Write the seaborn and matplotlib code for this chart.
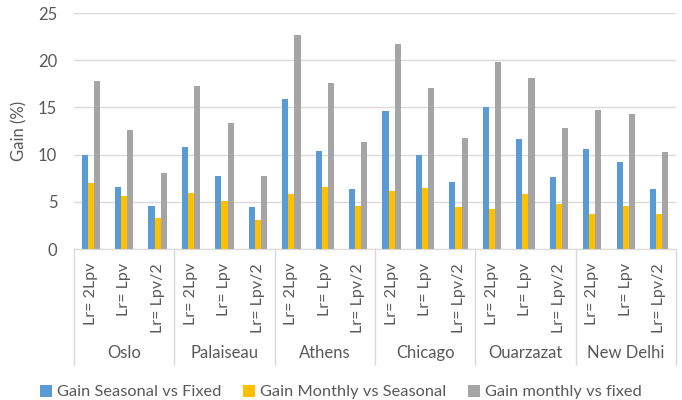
import pandas as pd
import matplotlib.pyplot as plt
import matplotlib.transforms as mtransforms
import seaborn as sns

sns.set_style("white")
plt.rcParams['font.family'] = ['Lato', 'DejaVu Sans']

# -------------------------------
# Data
# -------------------------------
cities = ["Oslo", "Palaiseau", "Athens", "Chicago", "Ouarzazat", "New Delhi"]
ratios = ["Lr= 2Lpv", "Lr= Lpv", "Lr= Lpv/2"]
series = ["Gain Seasonal vs Fixed", "Gain Monthly vs Seasonal", "Gain monthly vs fixed"]

seasonal_vs_fixed = [10.0, 6.6, 4.6, 10.8, 7.7, 4.5, 15.9, 10.4, 6.4,
                     14.6, 10.0, 7.1, 15.0, 11.7, 7.6, 10.6, 9.2, 6.4]
monthly_vs_seasonal = [7.0, 5.6, 3.3, 5.9, 5.1, 3.1, 5.8, 6.6, 4.6,
                       6.1, 6.5, 4.4, 4.2, 5.8, 4.8, 3.7, 4.6, 3.7]
monthly_vs_fixed = [17.8, 12.6, 8.0, 17.3, 13.3, 7.7, 22.7, 17.6, 11.3,
                    21.7, 17.1, 11.8, 19.8, 18.1, 12.8, 14.7, 14.3, 10.3]

colors = ["#5B9BD5", "#FFC000", "#A5A5A5"]
text_color = "#595959"
grid_color = "#D9D9D9"

# long-form table for seaborn
keys = [f"{c}|{r}" for c in cities for r in ratios]
rows = []
for name, vals in zip(series, [seasonal_vs_fixed, monthly_vs_seasonal, monthly_vs_fixed]):
    for k, v in zip(keys, vals):
        rows.append({"key": k, "series": name, "gain": v})
df = pd.DataFrame(rows)

# -------------------------------
# Plot
# -------------------------------
fig = plt.figure(figsize=(6.82, 4.0), dpi=100)
ax = fig.add_axes([0.1085, 0.3775, 0.8825, 0.59])

sns.barplot(data=df, x="key", y="gain", hue="series", order=keys,
            hue_order=series, palette=colors, saturation=1, width=0.55,
            ax=ax, edgecolor="none", legend=True)

ax.set_ylim(0, 25)
ax.set_xlim(-0.5, len(keys) - 0.5)
ax.set_yticks(range(0, 26, 5))
ax.yaxis.grid(True, color=grid_color, linewidth=1)
ax.set_axisbelow(True)
for s in ["top", "right", "left"]:
    ax.spines[s].set_visible(False)
ax.spines["bottom"].set_color(grid_color)

ax.set_xticks(range(len(keys)))
ax.set_xticklabels([k.split("|")[1] for k in keys], rotation=90,
                   fontsize=11.5, color=text_color)
ax.tick_params(axis="x", length=0, pad=10)
ax.tick_params(axis="y", length=0, pad=12, labelsize=12, labelcolor=text_color)
ax.set_xlabel("")
ax.set_ylabel("Gain (%)", fontsize=12, color=text_color, labelpad=8)

# group labels and separators below the axis
trans = mtransforms.blended_transform_factory(ax.transData, ax.transAxes)
for i, city in enumerate(cities):
    ax.text(i * 3 + 1, -0.44, city, transform=trans, ha="center", va="center",
            fontsize=12, color=text_color)
for b in range(len(cities) + 1):
    ax.plot([b * 3 - 0.5, b * 3 - 0.5], [0, -0.49], transform=trans,
            color=grid_color, linewidth=1, clip_on=False)

# legend
handles, labels = ax.get_legend_handles_labels()
ax.legend_.remove()
fig.legend(handles, labels, loc="center", bbox_to_anchor=(0.5, 1 - 392 / 400),
           ncol=3, frameon=False, fontsize=11.8, handlelength=0.75,
           handleheight=0.75, handletextpad=0.3, columnspacing=1.3,
           labelcolor=text_color)

fig.savefig("out.png", dpi=100)
